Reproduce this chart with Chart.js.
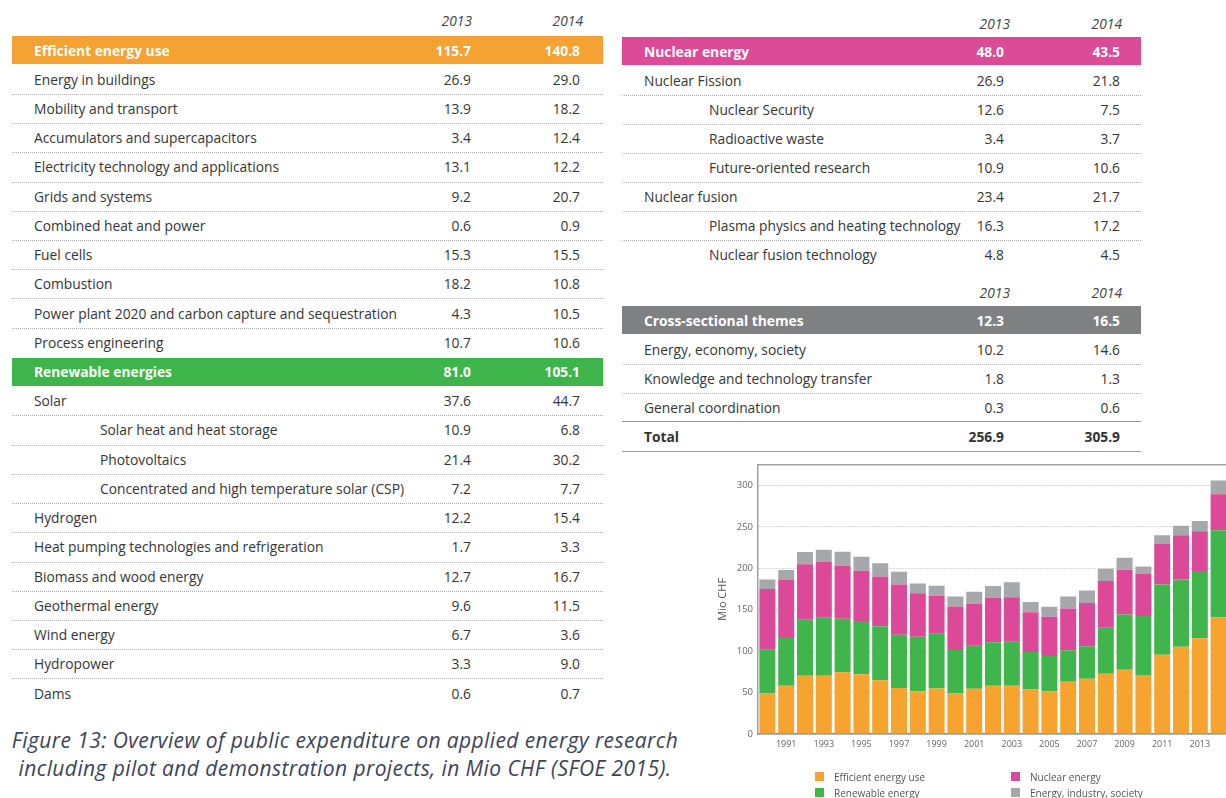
<!DOCTYPE html>
<html><head><meta charset="utf-8">
<script src="https://cdn.jsdelivr.net/npm/chart.js@4.4.1/dist/chart.umd.min.js"></script>
<style>
html,body{margin:0;padding:0;width:1226px;height:798px;overflow:hidden;background:#fff;font-family:"Open Sans",sans-serif;color:#363636;}
.cell{position:absolute;white-space:nowrap;height:29px;line-height:29px;font-size:13.8px;}
.r{text-align:right;}
.yr{font-style:italic;color:#444;}
.band{position:absolute;height:28px;}
.bandtxt{color:#fff;font-weight:bold;}
.dot{position:absolute;height:0;border-top:1px dotted #adadad;}
.solid{position:absolute;height:0;border-top:1.5px solid #999;}
.bold{font-weight:bold;color:#333;}
#legend div{position:absolute;font-size:10px;color:#555;white-space:nowrap;line-height:12px;}
#legend span.sq{position:absolute;width:9px;height:9px;}
#caption{position:absolute;left:0;top:726px;width:690px;text-align:center;font-style:italic;font-size:21px;letter-spacing:0.4px;line-height:28px;color:#3d4456;white-space:nowrap;}
</style></head><body>
<div id="tables"></div>
<div id="chartWrap" style="position:absolute;left:700px;top:454px;width:540px;height:344px;"><canvas id="c" width="540" height="344"></canvas></div>
<div id="legend"></div>
<div id="caption">Figure 13: Overview of public expenditure on applied energy research<br>including pilot and demonstration projects, in Mio CHF (SFOE 2015).</div>
<script>
// ---------- Table data ----------
const tableYears = ['2013', '2014'];
const leftLabels = ['Efficient energy use','Energy in buildings','Mobility and transport','Accumulators and supercapacitors','Electricity technology and applications','Grids and systems','Combined heat and power','Fuel cells','Combustion','Power plant 2020 and carbon capture and sequestration','Process engineering','Renewable energies','Solar','Solar heat and heat storage','Photovoltaics','Concentrated and high temperature solar (CSP)','Hydrogen','Heat pumping technologies and refrigeration','Biomass and wood energy','Geothermal energy','Wind energy','Hydropower','Dams'];
const leftKind = ['eff','row','row','row','row','row','row','row','row','row','row','ren','row','sub','sub','sub','row','row','row','row','row','row','row'];
const left2013 = ['115.7','26.9','13.9','3.4','13.1','9.2','0.6','15.3','18.2','4.3','10.7','81.0','37.6','10.9','21.4','7.2','12.2','1.7','12.7','9.6','6.7','3.3','0.6'];
const left2014 = ['140.8','29.0','18.2','12.4','12.2','20.7','0.9','15.5','10.8','10.5','10.6','105.1','44.7','6.8','30.2','7.7','15.4','3.3','16.7','11.5','3.6','9.0','0.7'];

const nucLabels = ['Nuclear energy','Nuclear Fission','Nuclear Security','Radioactive waste','Future-oriented research','Nuclear fusion','Plasma physics and heating technology','Nuclear fusion technology'];
const nucKind = ['nuc','row','sub','sub','sub','row','sub','sub'];
const nuc2013 = ['48.0','26.9','12.6','3.4','10.9','23.4','16.3','4.8'];
const nuc2014 = ['43.5','21.8','7.5','3.7','10.6','21.7','17.2','4.5'];

const crossLabels = ['Cross-sectional themes','Energy, economy, society','Knowledge and technology transfer','General coordination','Total'];
const crossKind = ['cross','row','row','row','total'];
const cross2013 = ['12.3','10.2','1.8','0.3','256.9'];
const cross2014 = ['16.5','14.6','1.3','0.6','305.9'];

// ---------- Chart data ----------
const years = ['1990','1991','1992','1993','1994','1995','1996','1997','1998','1999','2000','2001','2002','2003','2004','2005','2006','2007','2008','2009','2010','2011','2012','2013','2014'];
const efficientUse = [49,58.3,70.4,70.4,74.4,72,65,55.5,51.5,55,49,54.7,58.3,58.3,53.9,51.5,63,66.7,72.8,77.6,71.2,95.7,105.3,115.7,140.8];
const renewableEnergy = [52.7,57.5,67.6,69.9,64.6,64.3,65,64.3,65.9,66,52.3,51.8,52.3,53.1,45.1,42.5,38,39.3,55.5,66.7,71.1,84.8,81.3,81.0,105.1];
const nuclearEnergy = [73.3,70.2,67,67.2,63.7,60.7,60,60.7,52.6,45.9,52.7,50.7,53.4,53.5,47.8,47.5,50.6,52,56.3,53.9,50.7,49.5,53.4,48.0,43.5];
const energySociety = [11.6,12,14.5,14.9,17.3,17,16,15.3,11.7,12.1,12,14.5,14.5,18.1,12.4,12.1,14.4,15.3,14.8,14.5,9,10,11.3,12.3,16.5];
const seriesLabels = ['Efficient energy use','Renewable energy','Nuclear energy','Energy, industry, society'];
const yTickStep = 50;

// ---------- Render tables ----------
const bandColors = {eff:'#F4A233', ren:'#3DB54A', nuc:'#DB4B98', cross:'#7F8082'};
const T = document.getElementById('tables');
function el(cls, style, text){const d=document.createElement('div');d.className=cls;Object.assign(d.style,style);if(text!==undefined)d.textContent=text;T.appendChild(d);return d;}
function yearHeader(cy, r1, r2){
  el('cell r yr',{top:(cy-14.5)+'px',left:(r1-60)+'px',width:'60px'},tableYears[0]);
  el('cell r yr',{top:(cy-14.5)+'px',left:(r2-60)+'px',width:'60px'},tableYears[1]);
}
function renderTable(labels, kinds, v1, v2, g){
  for(let i=0;i<labels.length;i++){
    const cy = g.y0 + g.pitch*i;
    const k = kinds[i];
    const isBand = bandColors[k]!==undefined;
    let extra = '';
    if(isBand){
      el('band',{left:g.x0+'px',width:(g.x1-g.x0)+'px',top:(cy-14)+'px',background:bandColors[k]});
      extra=' bandtxt';
    }
    if(k==='total'){
      el('solid',{left:g.x0+'px',width:(g.x1-g.x0)+'px',top:(cy-15.5)+'px'});
      el('solid',{left:g.x0+'px',width:(g.x1-g.x0)+'px',top:(cy+14.5)+'px'});
      extra=' bold';
    }
    const lx = k==='sub'? g.indX : g.labX;
    el('cell'+extra,{top:(cy-14.5)+'px',left:lx+'px'},labels[i]);
    el('cell r'+extra,{top:(cy-14.5)+'px',left:(g.v1-70)+'px',width:'70px'},v1[i]);
    el('cell r'+extra,{top:(cy-14.5)+'px',left:(g.v2-70)+'px',width:'70px'},v2[i]);
    if(i<labels.length-1){
      const nk = kinds[i+1];
      if(!isBand && bandColors[nk]===undefined && nk!=='total'){
        el('dot',{left:g.x0+'px',width:(g.x1-g.x0)+'px',top:(cy+14.6)+'px'});
      }
    }
  }
}
yearHeader(20, 472, 583);
renderTable(leftLabels,leftKind,left2013,left2014,{x0:12,x1:603,labX:34,indX:100,v1:471,v2:580,y0:50,pitch:29.23});
yearHeader(23, 1010, 1122);
renderTable(nucLabels,nucKind,nuc2013,nuc2014,{x0:622,x1:1141,labX:644,indX:709,v1:1004,v2:1120,y0:51,pitch:29.14});
yearHeader(292, 1010, 1122);
renderTable(crossLabels,crossKind,cross2013,cross2014,{x0:622,x1:1141,labX:644,indX:709,v1:1004,v2:1120,y0:320,pitch:29.2});

// ---------- Chart ----------
const seriesColors = ['#F6A32F','#3FB54B','#DC4999','#A6A8AB'];
const seriesData = [efficientUse, renewableEnergy, nuclearEnergy, energySociety];
const framePlugin = {
  id:'frame',
  afterDraw(chart){
    const {ctx, chartArea:a} = chart;
    ctx.save();
    ctx.strokeStyle='#a0a0a0'; ctx.lineWidth=1.5;
    ctx.beginPath(); ctx.moveTo(a.left, a.top); ctx.lineTo(a.right, a.top); ctx.stroke();
    ctx.restore();
  }
};
Chart.defaults.font.family = '"Open Sans", sans-serif';
new Chart(document.getElementById('c'), {
  type:'bar',
  data:{
    labels: years,
    datasets: seriesLabels.map((l,i)=>({label:l, data:seriesData[i], backgroundColor:seriesColors[i], borderWidth:0}))
  },
  options:{
    responsive:false, animation:false,
    layout:{padding:{top:0,right:12,bottom:44,left:0}},
    plugins:{legend:{display:false}, tooltip:{enabled:false}},
    datasets:{bar:{categoryPercentage:1, barPercentage:0.85}},
    scales:{
      x:{stacked:true,
         grid:{display:false, drawTicks:false},
         border:{color:'#8a8a8a', width:1.5},
         ticks:{autoSkip:false, maxRotation:0, padding:5, color:'#666', font:{size:9},
                callback:(v,i)=> (i%2===1 ? years[i] : '')},
         afterFit:s=>{s.height=20;}},
      y:{stacked:true, min:0, max:325,
         ticks:{stepSize:yTickStep, padding:5, color:'#666', font:{size:9.5}},
         grid:{color:'#b0b0b0', drawTicks:false, lineWidth:1},
         border:{color:'#a0a0a0', width:1.5, dash:[1,2]},
         title:{display:true, text:'Mio CHF', color:'#555', font:{size:11}, padding:{top:16,bottom:0}},
         afterBuildTicks:s=>{s.ticks = s.ticks.filter(t=>t.value % yTickStep === 0);},
         afterFit:s=>{s.width=58;}}
    }
  },
  plugins:[framePlugin]
});

// ---------- Legend ----------
const L = document.getElementById('legend');
const legendPos = [[815,772],[815,788],[1011,772],[1011,788]];
seriesLabels.forEach((lab,i)=>{
  const [x,y] = legendPos[i];
  const sq = document.createElement('span'); sq.className='sq';
  Object.assign(sq.style,{left:x+'px',top:y+'px',background:seriesColors[i],position:'absolute'});
  L.appendChild(sq);
  const t = document.createElement('div');
  Object.assign(t.style,{left:(x+19)+'px',top:(y-1.5)+'px'});
  t.textContent = lab; L.appendChild(t);
});
</script>
</body></html>
